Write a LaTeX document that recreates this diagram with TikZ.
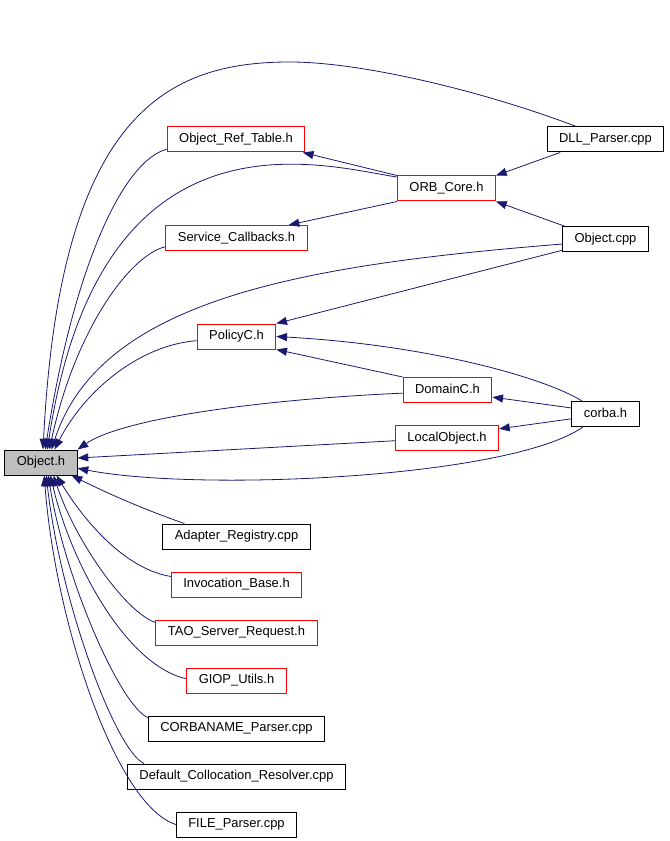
\documentclass[tikz,border=0pt]{standalone}
\usepackage{fontspec}
\setmainfont{Liberation Sans}
\usepackage{tikz}
\usetikzlibrary{arrows.meta, positioning}
\definecolor{edgeblue}{RGB}{25,25,112}
\definecolor{rootgray}{RGB}{191,191,191}

\begin{document}
\begin{tikzpicture}[x=0.75pt, y=-0.75pt,
         base/.style = {draw, line width=0.75pt, minimum height=18.75pt,
                        inner xsep=9pt, inner ysep=0pt,
                        text height=7pt, text depth=2pt,
                        font=\fontsize{9.7}{11}\selectfont},
         incl/.style = {base, draw=black},
        trunc/.style = {base, draw=red},
         root/.style = {base, draw=black, fill=rootgray},
          dep/.style = {-{Triangle[length=8pt,width=6pt]},
                        edgeblue, line width=0.6pt},
  node distance = 36pt]
  \useasboundingbox (0,0) rectangle (669,841);
  \node[root]  (objh)  at (41,462.5)    {Object.h};
  \node[trunc] (ort)   at (236,139.5)   {Object\_Ref\_Table.h};
  \node[trunc] (sc)    at (236.5,238)   {Service\_Callbacks.h};
  \node[trunc] (pol)   at (236.5,336.5) {PolicyC.h};
  \node[trunc] (orb)   at (446.5,188.5) {ORB\_Core.h};
  \node[incl]  (dll)   at (605.5,139.5) {DLL\_Parser.cpp};
  \node[incl]  (ocpp)  at (605.5,239.5) {Object.cpp};
  \node[trunc] (dom)   at (447.5,390)   {DomainC.h};
  \node[trunc] (lob)   at (447,438)     {LocalObject.h};
  \node[incl]  (corba) at (605.5,414)   {corba.h};
  \node[incl]  (ar)    at (236.5,536.5) {Adapter\_Registry.cpp};
  \node[trunc] (ib)    [below of=ar]    {Invocation\_Base.h};
  \node[trunc] (tsr)   [below of=ib]    {TAO\_Server\_Request.h};
  \node[trunc] (giop)  [below of=tsr]   {GIOP\_Utils.h};
  \node[incl]  (cn)    [below of=giop]  {CORBANAME\_Parser.cpp};
  \node[incl]  (dcr)   [below of=cn]    {Default\_Collocation\_Resolver.cpp};
  \node[incl]  (fp)    [below of=dcr]   {FILE\_Parser.cpp};

  % upper includers of Object.h
  \draw[dep] (dll.156)   .. controls (480,90)   and (360,62)   .. (290,62)
                         .. controls (170,62)   and (60,110)   .. (objh.81);
  \draw[dep] (ort.188)   .. controls (125,160)  and (75,260)   .. (objh.72);
  \draw[dep] (orb.167)   .. controls (320,165)  and (100,100)  .. (objh.64);
  \draw[dep] (sc.187)    .. controls (130,255)  and (75,330)   .. (objh.57);
  \draw[dep] (ocpp.186)  .. controls (300,265)  and (100,300)  .. (objh.51);
  \draw[dep] (pol.186)   .. controls (140,345)  and (85,390)   .. (objh.44);
  \draw[dep] (dom.184)   .. controls (250,400)  and (120,420)  .. (objh.north east);
  \draw[dep] (corba.210) .. controls (510,478)  and (200,492)  .. (objh.-9);
  \draw[dep] (corba.151) .. controls (545,378)  and (430,345)  .. (pol.east);
  \path[dep] (dll.196)         edge (orb.north east)
             (ocpp.162)        edge (orb.south east)
             (ocpp.194)        edge (pol.north east)
             (orb.north west)  edge (ort.-11)
             (orb.south west)  edge (sc.14)
             (dom.north west)  edge (pol.south east)
             (corba.170)       edge (dom.-9)
             (corba.188)       edge (lob.10)
             (lob.183)         edge (objh.7);

  % lower includers of Object.h
  \draw[dep] (ar.166)   .. controls (140,508) and (105,492) .. (objh.-23);
  \draw[dep] (ib.173)   .. controls (130,570) and (90,530)  .. (objh.-40);
  \draw[dep] (tsr.173)  .. controls (125,612) and (75,540)  .. (objh.-46);
  \draw[dep] (giop.178) .. controls (125,665) and (70,560)  .. (objh.-54);
  \draw[dep] (cn.173)   .. controls (120,705) and (65,580)  .. (objh.-61);
  \draw[dep] (dcr.172)  .. controls (115,750) and (60,600)  .. (objh.-68);
  \draw[dep] (fp.west)  .. controls (115,805) and (55,620)  .. (objh.-76);
\end{tikzpicture}
\end{document}
